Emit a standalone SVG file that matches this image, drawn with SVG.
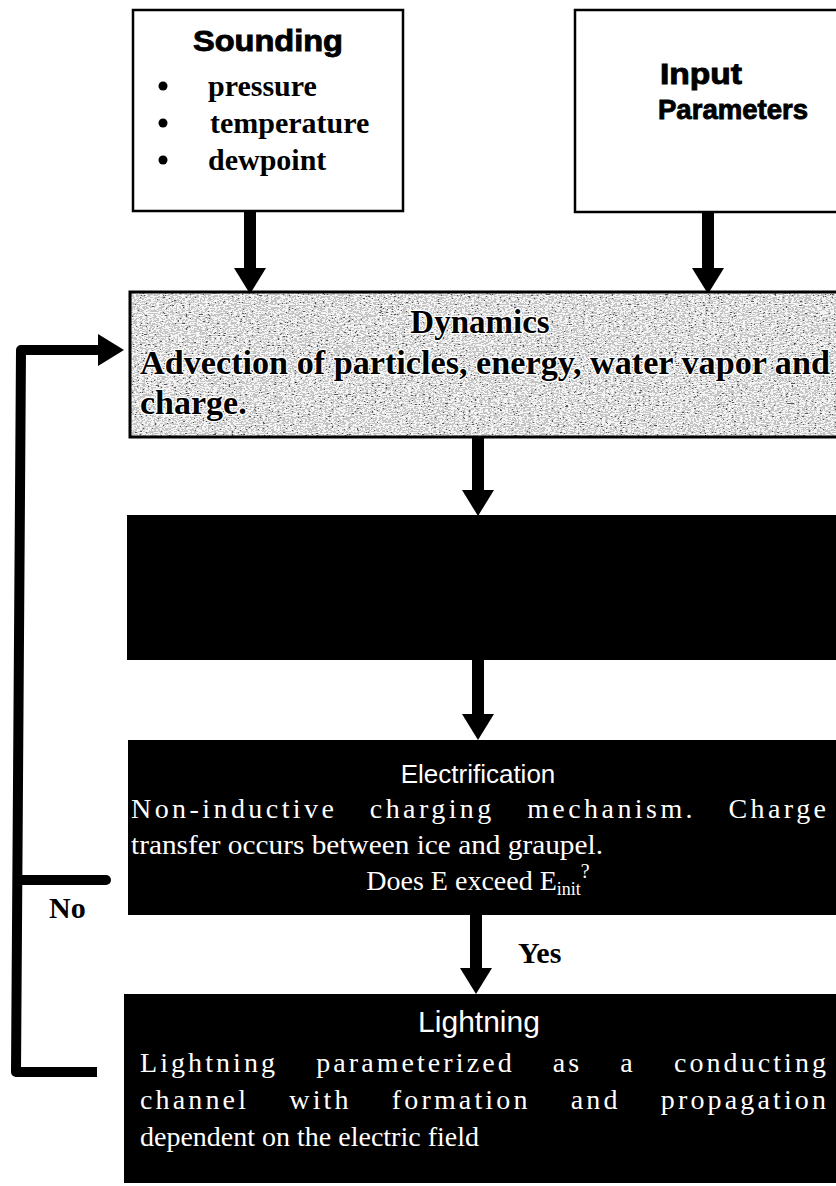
<svg xmlns="http://www.w3.org/2000/svg" width="836" height="1186" viewBox="0 0 836 1186">
  <style>
    .box { fill: #fff; stroke: #000; stroke-width: 2.5; }
    .dark { fill: #000; }
    .hsans { font-family: "Liberation Sans", Arial, sans-serif; font-weight: bold; fill: #000; stroke: #000; stroke-width: 0.9; }
    .bserif { font-family: "Liberation Serif", "Times New Roman", serif; font-weight: bold; fill: #000; }
    .wsans { font-family: "Liberation Sans", Arial, sans-serif; fill: #fff; }
    .wserif { font-family: "Liberation Serif", "Times New Roman", serif; fill: #fff; }
    .emb { font-family: "Liberation Serif", "Times New Roman", serif; font-weight: bold; fill: #000; stroke: #fff; stroke-width: 2.5; paint-order: stroke; }
    .flow { fill: none; stroke: #000; stroke-width: 12; }
    .loop { fill: none; stroke: #000; stroke-width: 10; stroke-linejoin: round; }
  </style>
  <defs>
    <marker id="head" markerUnits="userSpaceOnUse" markerWidth="27" markerHeight="32" refX="0" refY="16" orient="auto" overflow="visible">
      <path d="M0,0 L26,16 L0,32 Z" fill="#000"/>
    </marker>
    <!-- streaky stipple used as the fill of the dynamics panel -->
    <filter id="grain" x="0" y="0" width="100%" height="100%">
      <feTurbulence type="fractalNoise" baseFrequency="0.35 0.9" numOctaves="3" seed="7"/>
      <feColorMatrix type="saturate" values="0"/>
      <feComponentTransfer>
        <feFuncR type="discrete" tableValues="0 0.1 0.55 0.9 1 1"/>
        <feFuncG type="discrete" tableValues="0 0.1 0.55 0.9 1 1"/>
        <feFuncB type="discrete" tableValues="0 0.1 0.55 0.9 1 1"/>
        <feFuncA type="linear" slope="0" intercept="1"/>
      </feComponentTransfer>
    </filter>
  </defs>

  <rect width="836" height="1186" fill="#fff"/>

  <!-- connectors -->
  <g id="connectors">
    <path class="flow" d="M250,211 V268" marker-end="url(#head)"/>
    <path class="flow" d="M708,212 V268" marker-end="url(#head)"/>
    <path class="flow" d="M478,437 V490" marker-end="url(#head)"/>
    <path class="flow" d="M478,660 V714" marker-end="url(#head)"/>
    <path class="flow" d="M476,915 V968" marker-end="url(#head)"/>
    <path class="loop" d="M97,1072 H16 L21,350 H98" marker-end="url(#head)"/>
    <path class="loop" d="M18,880 H106" stroke-linecap="round"/>
    <text class="bserif" x="49" y="918" font-size="30">No</text>
    <text class="bserif" x="518" y="963" font-size="30">Yes</text>
  </g>

  <!-- sounding input -->
  <g id="sounding">
    <rect class="box" x="133" y="10" width="270" height="201"/>
    <text class="hsans" x="268" y="51" font-size="30" text-anchor="middle" textLength="150" lengthAdjust="spacingAndGlyphs">Sounding</text>
    <circle cx="163" cy="86" r="4.5"/>
    <circle cx="163" cy="123" r="4.5"/>
    <circle cx="163" cy="160" r="4.5"/>
    <text class="bserif" x="208" y="96" font-size="30">pressure</text>
    <text class="bserif" x="210" y="133" font-size="30">temperature</text>
    <text class="bserif" x="208" y="170" font-size="30">dewpoint</text>
  </g>

  <!-- model input parameters -->
  <g id="input-parameters">
    <rect class="box" x="575" y="10" width="275" height="202"/>
    <text class="hsans" x="660" y="84" font-size="29" textLength="82" lengthAdjust="spacingAndGlyphs">Input</text>
    <text class="hsans" x="658" y="119" font-size="28" textLength="150" lengthAdjust="spacingAndGlyphs">Parameters</text>
  </g>

  <!-- dynamics step (stippled panel) -->
  <g id="dynamics">
    <rect x="130" y="292" width="720" height="145" filter="url(#grain)"/>
    <rect x="130" y="292" width="720" height="145" fill="none" stroke="#000" stroke-width="3"/>
    <text class="emb" x="480" y="333" font-size="33" text-anchor="middle">Dynamics</text>
    <text class="emb" x="140" y="374" font-size="34" textLength="690" lengthAdjust="spacingAndGlyphs">Advection of particles, energy, water vapor and</text>
    <text class="emb" x="140" y="414" font-size="34">charge.</text>
  </g>

  <!-- unlabeled step -->
  <g id="step-blank">
    <rect class="dark" x="127" y="515" width="713" height="145"/>
  </g>

  <!-- electrification step -->
  <g id="electrification">
    <rect class="dark" x="128" y="740" width="712" height="175"/>
    <text class="wsans" x="478" y="783" font-size="26" text-anchor="middle">Electrification</text>
    <text class="wserif" x="131" y="818" font-size="28" word-spacing="22" textLength="695" lengthAdjust="spacing">Non-inductive charging mechanism. Charge</text>
    <text class="wserif" x="131" y="854" font-size="28" textLength="472" lengthAdjust="spacingAndGlyphs">transfer occurs between ice and graupel.</text>
    <text class="wserif" x="478" y="890" font-size="28" text-anchor="middle">Does E exceed E<tspan font-size="18" dy="5">init</tspan><tspan dy="-17" font-size="20">?</tspan></text>
  </g>

  <!-- lightning step -->
  <g id="lightning">
    <rect class="dark" x="124" y="994" width="716" height="189"/>
    <text class="wsans" x="479" y="1032" font-size="30" text-anchor="middle">Lightning</text>
    <text class="wserif" x="140" y="1072" font-size="28" word-spacing="28" textLength="686" lengthAdjust="spacing">Lightning parameterized as a conducting</text>
    <text class="wserif" x="140" y="1109" font-size="28" word-spacing="30" textLength="686" lengthAdjust="spacing">channel with formation and propagation</text>
    <text class="wserif" x="140" y="1146" font-size="28">dependent on the electric field</text>
  </g>
</svg>
